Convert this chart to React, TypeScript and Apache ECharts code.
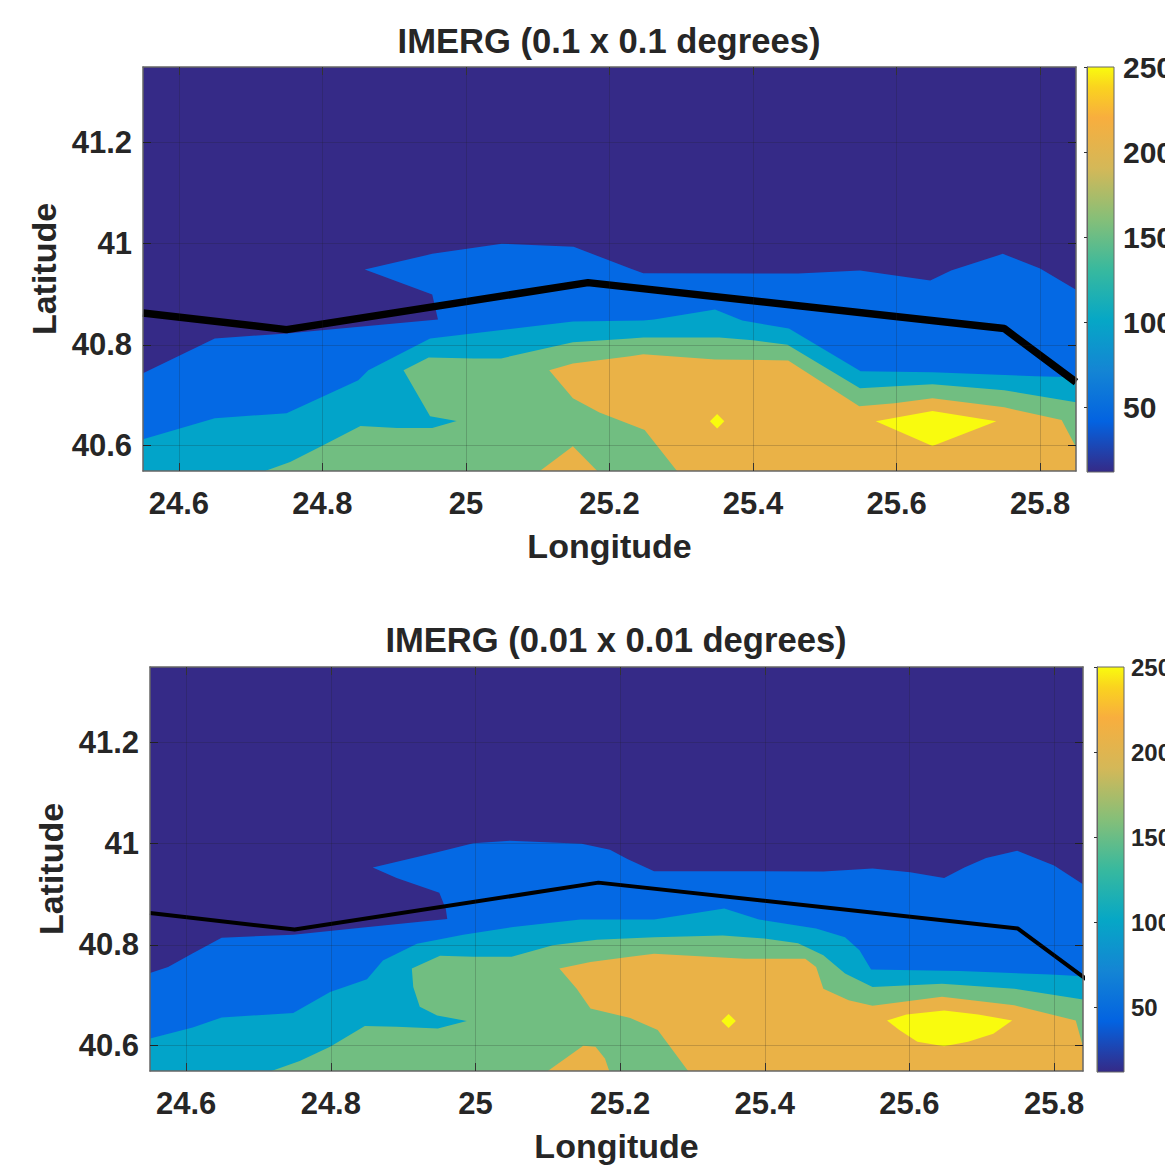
import React, { useEffect, useRef } from "react";
import * as echarts from "echarts";

type Pt = [number, number];

const lonTicks = [24.6, 24.8, 25, 25.2, 25.4, 25.6, 25.8];
const latTicks = [40.6, 40.8, 41, 41.2];
const barTicks = [50, 100, 150, 200, 250];
const barRange: Pt = [12, 250];

const colBg = "#352A87";
const colBlue = "#0469E4";
const colTeal = "#02A4C9";
const colGreen = "#71BE81";
const colOrange = "#EAB247";
const colYellow = "#F9FB0E";

const parula: [number, string][] = [
  [0, "#352a87"], [0.125, "#0363e1"], [0.25, "#1485d4"], [0.375, "#06a7c6"], [0.5, "#38b99e"],
  [0.625, "#86bf78"], [0.75, "#d4b858"], [0.875, "#f8ae3e"], [0.95, "#fad31f"], [1, "#f9fb0e"],
];

const track: Pt[] = [[24.55, 40.863], [24.75, 40.83], [25.17, 40.923], [25.75, 40.832], [25.85, 40.726]];

// Panel 1: 0.1 x 0.1 degrees
const a1Blue: Pt[] = [
  [24.55, 40.55], [24.55, 40.7435], [24.65, 40.8126], [24.75, 40.8225], [24.961, 40.85], [24.953, 40.8995],
  [24.859, 40.9488], [24.953, 40.98], [25.05, 41.0], [25.15, 40.994], [25.229, 40.951], [25.247, 40.9415],
  [25.4, 40.941], [25.463, 40.941], [25.549, 40.947], [25.647, 40.927], [25.676, 40.947], [25.748, 40.98],
  [25.8, 40.951], [25.85, 40.909], [25.85, 40.55],
];
const a1Teal: Pt[] = [
  [24.55, 40.55], [24.55, 40.613], [24.65, 40.6546], [24.75, 40.6645], [24.85, 40.7297], [24.864, 40.7494],
  [24.95, 40.8126], [25.149, 40.846], [25.247, 40.848], [25.262, 40.85], [25.347, 40.87], [25.385, 40.848],
  [25.45, 40.832], [25.55, 40.7474], [25.65, 40.7455], [25.794, 40.7376], [25.85, 40.7356], [25.85, 40.55],
];
const a1Green: Pt[] = [
  [24.72, 40.55], [24.755, 40.568], [24.797, 40.598], [24.853, 40.639], [24.904, 40.635], [24.953, 40.635],
  [24.987, 40.649], [24.95, 40.6586], [24.913, 40.7494], [24.948, 40.775], [25.011, 40.773], [25.049, 40.773],
  [25.149, 40.805], [25.229, 40.8126], [25.247, 40.8146], [25.353, 40.8146], [25.4, 40.809], [25.448, 40.8],
  [25.549, 40.714], [25.598, 40.718], [25.65, 40.722], [25.75, 40.71], [25.85, 40.686], [25.85, 40.55],
];
const a1Orange: Pt[] = [
  [25.116, 40.7494], [25.149, 40.763], [25.229, 40.777], [25.247, 40.781], [25.347, 40.771], [25.449, 40.769],
  [25.548, 40.678], [25.597, 40.684], [25.65, 40.694], [25.75, 40.676], [25.83, 40.651], [25.85, 40.597],
  [25.85, 40.55], [25.294, 40.55], [25.249, 40.631], [25.186, 40.666], [25.149, 40.694],
];
const a1OrangeSmall: Pt[] = [[25.103, 40.55], [25.149, 40.599], [25.183, 40.55]];
const a1YellowDot: Pt[] = [[25.35, 40.663], [25.36, 40.6487], [25.35, 40.634], [25.34, 40.6487]];
const a1YellowBig: Pt[] = [[25.571, 40.6487], [25.65, 40.669], [25.739, 40.6487], [25.65, 40.5994]];

// Panel 2: 0.01 x 0.01 degrees
const b1Blue: Pt[] = [
  [24.55, 40.55], [24.55, 40.744], [24.575, 40.756], [24.608, 40.782], [24.649, 40.814], [24.748, 40.82],
  [24.845, 40.834], [24.961, 40.851], [24.959, 40.871], [24.95, 40.903], [24.891, 40.932], [24.858, 40.953],
  [24.947, 40.983], [24.997, 41.001], [25.048, 41.006], [25.147, 41.0], [25.186, 40.988], [25.21, 40.97],
  [25.247, 40.9455], [25.377, 40.9455], [25.481, 40.945], [25.549, 40.951], [25.601, 40.9435], [25.648, 40.932],
  [25.676, 40.953], [25.706, 40.972], [25.749, 40.986], [25.8, 40.957], [25.84, 40.92], [25.84, 40.55],
];
const b1Teal: Pt[] = [
  [24.55, 40.55], [24.55, 40.6145], [24.609, 40.636], [24.649, 40.656], [24.748, 40.665], [24.799, 40.7066],
  [24.85, 40.7316], [24.872, 40.769], [24.919, 40.802], [24.983, 40.82], [25.052, 40.835], [25.145, 40.85],
  [25.247, 40.85], [25.344, 40.872], [25.392, 40.85], [25.471, 40.832], [25.511, 40.815], [25.531, 40.789],
  [25.547, 40.751], [25.67, 40.748], [25.795, 40.741], [25.84, 40.7376], [25.84, 40.55],
];
const b1Green: Pt[] = [
  [24.718, 40.55], [24.757, 40.57], [24.799, 40.598], [24.847, 40.639], [24.891, 40.6375], [24.948, 40.634],
  [24.988, 40.649], [24.947, 40.66], [24.923, 40.677], [24.914, 40.7165], [24.912, 40.753], [24.951, 40.778],
  [24.997, 40.776], [25.05, 40.776], [25.107, 40.799], [25.168, 40.81], [25.247, 40.815], [25.342, 40.8185],
  [25.402, 40.812], [25.446, 40.803], [25.481, 40.779], [25.511, 40.743], [25.549, 40.7165], [25.645, 40.723],
  [25.745, 40.713], [25.84, 40.6915], [25.84, 40.55],
];
const b1Orange: Pt[] = [
  [25.116, 40.753], [25.159, 40.766], [25.214, 40.776], [25.247, 40.782], [25.372, 40.7725], [25.456, 40.7725],
  [25.471, 40.756], [25.481, 40.713], [25.516, 40.69], [25.549, 40.679], [25.645, 40.697], [25.745, 40.68],
  [25.83, 40.65], [25.84, 40.598], [25.84, 40.55], [25.294, 40.55], [25.252, 40.631], [25.214, 40.655],
  [25.159, 40.674], [25.14, 40.713],
];
const b1OrangeSmall: Pt[] = [[25.1, 40.55], [25.149, 40.6], [25.166, 40.598], [25.179, 40.575], [25.185, 40.55]];
const b1YellowDot: Pt[] = [[25.35, 40.663], [25.36, 40.649], [25.35, 40.635], [25.34, 40.649]];
const b1YellowBig: Pt[] = [
  [25.569, 40.65], [25.596, 40.662], [25.648, 40.67], [25.695, 40.662], [25.742, 40.65], [25.716, 40.624],
  [25.681, 40.608], [25.648, 40.599], [25.611, 40.608], [25.586, 40.631],
];

const panel1: [Pt[], string][] = [
  [a1Blue, colBlue], [a1Teal, colTeal], [a1Green, colGreen], [a1Orange, colOrange],
  [a1OrangeSmall, colOrange], [a1YellowDot, colYellow], [a1YellowBig, colYellow],
];
const panel2: [Pt[], string][] = [
  [b1Blue, colBlue], [b1Teal, colTeal], [b1Green, colGreen], [b1Orange, colOrange],
  [b1OrangeSmall, colOrange], [b1YellowDot, colYellow], [b1YellowBig, colYellow],
];

const FONT = "Liberation Sans";
const INK = "#262626";
const FRAME = "#666666";

function buildOption() {
  const grid: any[] = [];
  const xAxis: any[] = [];
  const yAxis: any[] = [];
  const series: any[] = [];
  const title: any[] = [];

  const addPanel = (cfg: {
    text: string; titleX: number; titleTop: number; left: number; top: number; xMax: number;
    regions: [Pt[], string][]; lineWidth: number; barLeft: number; barLabelSize: number; barMargin: number; latPad: number;
  }) => {
    const g = grid.length;
    grid.push({
      left: cfg.left, top: cfg.top, width: 933, height: 404, show: true, backgroundColor: colBg, borderWidth: 0,
      outerBoundsMode: "none",
    });
    title.push({
      text: cfg.text, left: cfg.titleX, top: cfg.titleTop, textAlign: "center",
      textStyle: { fontFamily: FONT, fontSize: 34.6, fontWeight: "bold", color: INK },
    });
    const xi = xAxis.length;
    const yi = yAxis.length;
    const xBase = {
      type: "value", gridIndex: g, min: 24.55, max: cfg.xMax, z: 5,
      axisLine: { show: true, onZero: false, lineStyle: { color: FRAME, width: 1.5 } },
      axisTick: { show: true, inside: true, length: 8, customValues: lonTicks, lineStyle: { color: "#333", width: 1 } },
    };
    const yBase = {
      type: "value", gridIndex: g, min: 40.55, max: 41.35, z: 5,
      axisLine: { show: true, onZero: false, lineStyle: { color: FRAME, width: 1.5 } },
      axisTick: { show: true, inside: true, length: 8, customValues: latTicks, lineStyle: { color: "#222", width: 1 } },
    };
    xAxis.push({
      ...xBase, position: "bottom", name: "Longitude", nameLocation: "middle", nameGap: 58,
      nameTextStyle: { fontFamily: FONT, fontSize: 34, fontWeight: "bold", color: INK },
      axisLabel: { show: true, customValues: lonTicks, margin: 17, fontFamily: FONT, fontSize: 31, fontWeight: "bold", color: INK },
      splitLine: { show: true, lineStyle: { color: "rgba(30,30,30,0.2)", width: 1 } },
    });
    xAxis.push({ ...xBase, position: "top", axisLabel: { show: false }, splitLine: { show: false } });
    yAxis.push({
      ...yBase, position: "left", name: "Latitude", nameLocation: "middle", nameGap: 80,
      nameTextStyle: { fontFamily: FONT, fontSize: 34, fontWeight: "bold", color: INK },
      axisLabel: {
        show: true, customValues: latTicks, margin: 11, fontFamily: FONT, fontSize: 31, fontWeight: "bold", color: INK,
        padding: [cfg.latPad, 0, 0, 0],
      },
      splitLine: { show: true, lineStyle: { color: "rgba(30,30,30,0.2)", width: 1 } },
    });
    yAxis.push({ ...yBase, position: "right", axisLabel: { show: false }, splitLine: { show: false } });

    cfg.regions.forEach(([pts, color]) => {
      series.push({
        type: "custom", xAxisIndex: xi, yAxisIndex: yi, coordinateSystem: "cartesian2d", clip: true, silent: true,
        data: pts,
        renderItem: (params: any, api: any) => {
          if (params.dataIndex !== 0) return null;
          return { type: "polygon", shape: { points: pts.map((p) => api.coord(p)) }, style: { fill: color } };
        },
      });
    });
    series.push({
      type: "line", xAxisIndex: xi, yAxisIndex: yi, data: track, showSymbol: false, silent: true, z: 3,
      lineStyle: { color: "#000", width: cfg.lineWidth, cap: "butt" },
    });

    // Colour bar
    const cb = grid.length;
    grid.push({ left: cfg.barLeft, top: cfg.top, width: 27, height: 405, outerBoundsMode: "none" });
    const cx = xAxis.length;
    const cy = yAxis.length;
    xAxis.push({ type: "value", gridIndex: cb, min: 0, max: 1, show: false });
    yAxis.push({
      type: "value", gridIndex: cb, min: barRange[0], max: barRange[1], position: "right", z: 5,
      axisLine: { show: true, lineStyle: { color: FRAME, width: 1 } },
      axisTick: { show: true, inside: true, length: 3, customValues: barTicks, lineStyle: { color: "#333" } },
      axisLabel: {
        show: true, customValues: barTicks, margin: cfg.barMargin, fontFamily: FONT, fontSize: cfg.barLabelSize,
        fontWeight: "bold", color: INK,
      },
      splitLine: { show: false },
    });
    const barGrad = new echarts.graphic.LinearGradient(0, 1, 0, 0, parula.map(([offset, color]) => ({ offset, color })));
    series.push({
      type: "custom", xAxisIndex: cx, yAxisIndex: cy, coordinateSystem: "cartesian2d", silent: true,
      data: [[0, barRange[0], 1, barRange[1]]],
      renderItem: (_p: any, api: any) => {
        const a = api.coord([api.value(0), api.value(1)]);
        const b = api.coord([api.value(2), api.value(3)]);
        return {
          type: "rect", shape: { x: a[0], y: b[1], width: b[0] - a[0], height: a[1] - b[1] },
          style: { fill: barGrad, stroke: FRAME, lineWidth: 1 },
        };
      },
    });
  };

  addPanel({
    text: "IMERG (0.1 x 0.1 degrees)", titleX: 604, titleTop: 18, left: 143, top: 67, xMax: 25.85,
    regions: panel1, lineWidth: 7.5, barLeft: 1087, barLabelSize: 30, barMargin: 9, latPad: 4,
  });
  addPanel({
    text: "IMERG (0.01 x 0.01 degrees)", titleX: 611, titleTop: 617, left: 150, top: 667, xMax: 25.84,
    regions: panel2, lineWidth: 4, barLeft: 1097, barLabelSize: 24, barMargin: 7, latPad: 2,
  });

  return { animation: false, backgroundColor: "#fff", title, grid, xAxis, yAxis, series };
}

export default function App() {
  const ref = useRef<HTMLDivElement>(null);
  useEffect(() => {
    document.body.style.margin = "0";
    const chart = echarts.init(ref.current!, undefined, { renderer: "svg" });
    chart.setOption(buildOption() as any);
    return () => chart.dispose();
  }, []);
  return <div ref={ref} style={{ width: 1165, height: 1167, display: "block" }} />;
}
